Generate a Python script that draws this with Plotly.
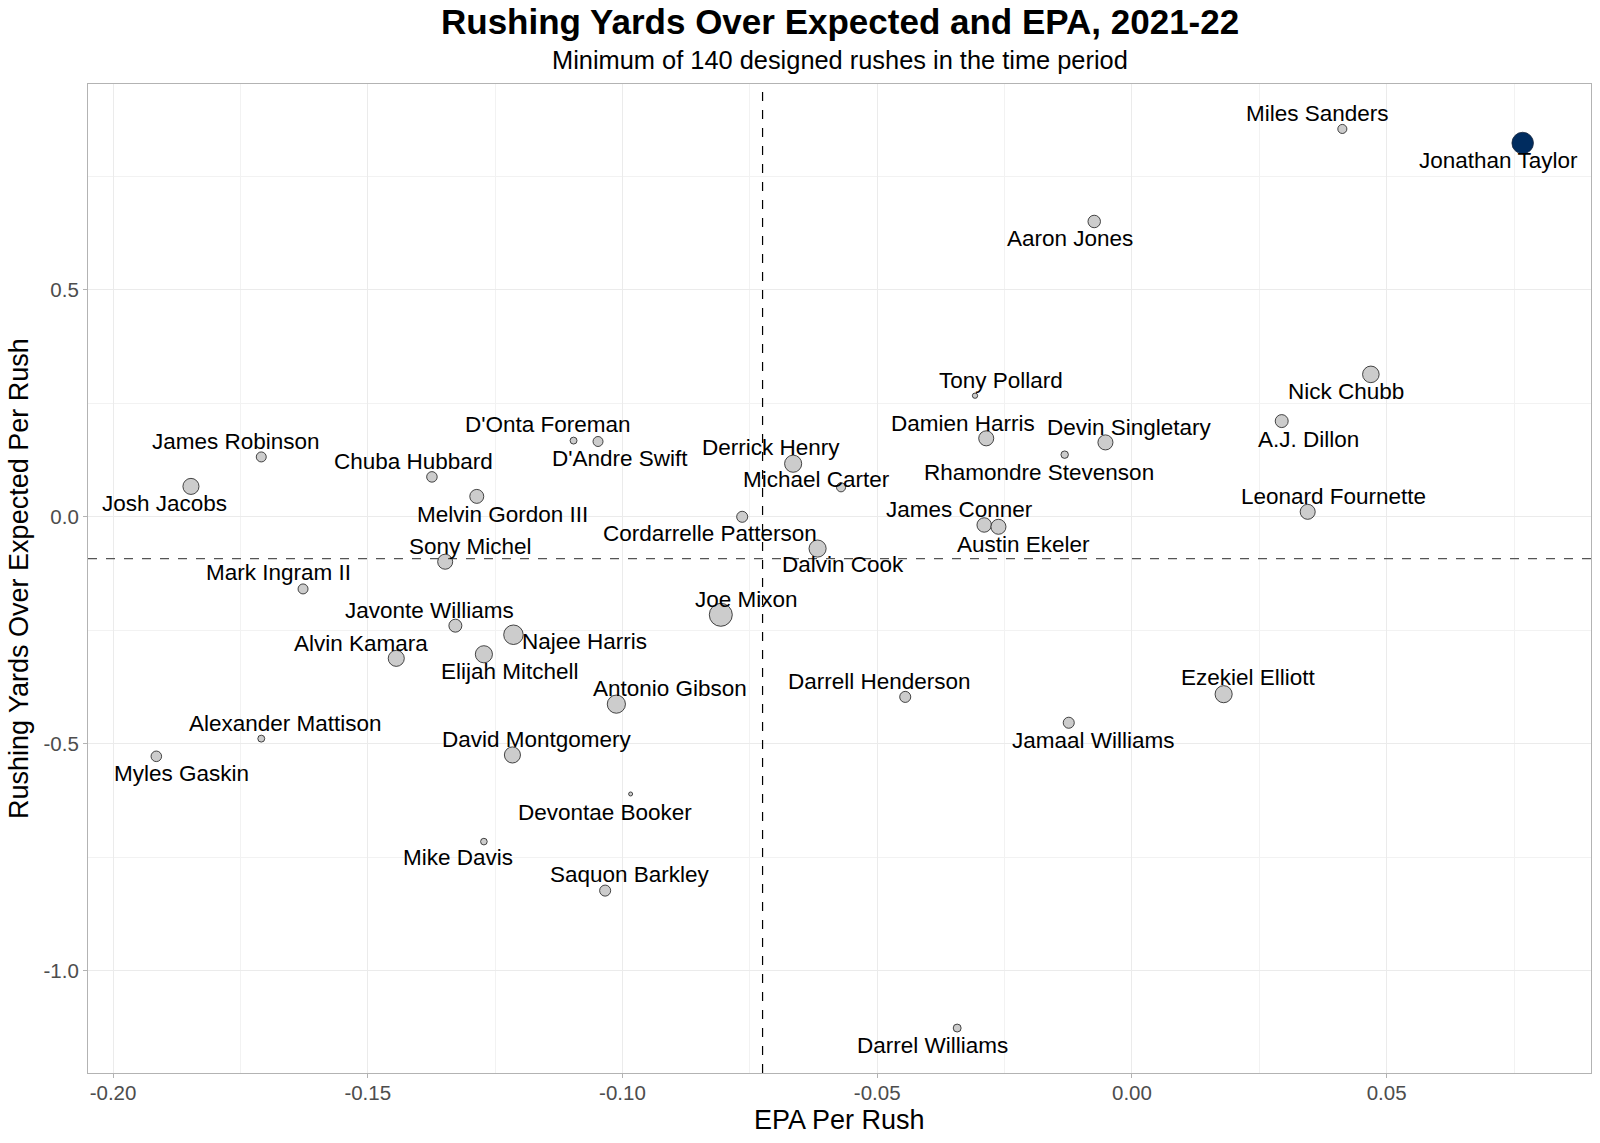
import numpy as np
import plotly.graph_objects as go

# ---------------- data ----------------
players = [
    "Jonathan Taylor", "Miles Sanders", "Aaron Jones", "Nick Chubb", "A.J. Dillon",
    "Tony Pollard", "Damien Harris", "Devin Singletary", "Rhamondre Stevenson",
    "Leonard Fournette", "James Conner", "Austin Ekeler", "Derrick Henry",
    "Michael Carter", "Cordarrelle Patterson", "Dalvin Cook", "Joe Mixon",
    "D'Onta Foreman", "D'Andre Swift", "Chuba Hubbard", "Melvin Gordon III",
    "Sony Michel", "James Robinson", "Josh Jacobs", "Mark Ingram II",
    "Javonte Williams", "Najee Harris", "Alvin Kamara", "Elijah Mitchell",
    "Antonio Gibson", "Darrell Henderson", "Ezekiel Elliott", "Jamaal Williams",
    "Alexander Mattison", "Myles Gaskin", "David Montgomery", "Devontae Booker",
    "Mike Davis", "Saquon Barkley", "Darrel Williams",
]
epa_per_rush = [
    0.0767, 0.0413, -0.0074, 0.0469, 0.0294,
    -0.0308, -0.0286, -0.0052, -0.0132,
    0.0345, -0.0290, -0.0262, -0.0665,
    -0.0571, -0.0765, -0.0617, -0.0807,
    -0.1096, -0.1048, -0.1374, -0.1286,
    -0.1348, -0.1709, -0.1847, -0.1627,
    -0.1328, -0.1214, -0.1444, -0.1272,
    -0.1012, -0.0445, 0.0180, -0.0124,
    -0.1709, -0.1915, -0.1216, -0.0984,
    -0.1272, -0.1034, -0.0343,
]
ryoe_per_rush = [
    0.824, 0.855, 0.651, 0.314, 0.211,
    0.267, 0.173, 0.164, 0.137,
    0.011, -0.018, -0.022, 0.117,
    0.065, 0.000, -0.070, -0.216,
    0.168, 0.166, 0.088, 0.045,
    -0.099, 0.132, 0.067, -0.159,
    -0.240, -0.260, -0.312, -0.303,
    -0.413, -0.397, -0.391, -0.454,
    -0.489, -0.528, -0.525, -0.611,
    -0.716, -0.824, -1.127,
]
designed_rushes = [
    318, 155, 182, 232, 187,
    141, 211, 211, 147,
    211, 204, 211, 240,
    155, 169, 240, 350,
    145, 161, 165, 198,
    211, 161, 225, 161,
    187, 280, 225, 240,
    257, 169, 240, 169,
    145, 165, 225, 140,
    144, 169, 149,
]
highlight_player = "Jonathan Taylor"
mean_epa = -0.0725
mean_ryoe = -0.092

x_ticks = [-0.20, -0.15, -0.10, -0.05, 0.00, 0.05]
x_tick_labels = ["-0.20", "-0.15", "-0.10", "-0.05", "0.00", "0.05"]
y_ticks = [-1.0, -0.5, 0.0, 0.5]
y_tick_labels = ["-1.0", "-0.5", "0.0", "0.5"]

# ---------------- layout / style ----------------
W, H = 1600, 1143
S = 1600 / 1568
ML, MR, MT, MB = 88, 9, 84, 70
FONT = "Liberation Sans, Arial, Helvetica, sans-serif"

# label offsets (px, dx right, dy down) as placed by the repel layout
label_offsets = {
    "Miles Sanders": (-24, -15), "Jonathan Taylor": (-24, 17), "Aaron Jones": (-24, 17),
    "Nick Chubb": (-24, 17), "A.J. Dillon": (26, 18), "Tony Pollard": (25, -15),
    "Damien Harris": (-23, -15), "Devin Singletary": (24, -15),
    "Rhamondre Stevenson": (-25, 17), "Leonard Fournette": (25, -15),
    "James Conner": (-24, -15), "Austin Ekeler": (25, 17), "Derrick Henry": (-22, -16),
    "Michael Carter": (-24, -8), "Cordarrelle Patterson": (-32, 16),
    "Dalvin Cook": (25, 16), "Joe Mixon": (25, -15), "D'Onta Foreman": (-25, -16),
    "D'Andre Swift": (22, 17), "Chuba Hubbard": (-18, -15),
    "Melvin Gordon III": (25, 18), "Sony Michel": (25, -15),
    "James Robinson": (-25, -15), "Josh Jacobs": (-26, 17),
    "Mark Ingram II": (-24, -16), "Javonte Williams": (-25, -15),
    "Najee Harris": (70, 7), "Alvin Kamara": (-35, -15), "Elijah Mitchell": (26, 17),
    "Antonio Gibson": (53, -15), "Darrell Henderson": (-25, -15),
    "Ezekiel Elliott": (24, -16), "Jamaal Williams": (24, 17),
    "Alexander Mattison": (24, -15), "Myles Gaskin": (25, 17),
    "David Montgomery": (24, -15), "Devontae Booker": (-25, 18),
    "Mike Davis": (-25, 16), "Saquon Barkley": (24, -16), "Darrel Williams": (-24, 17),
}

x = np.array(epa_per_rush)
y = np.array(ryoe_per_rush)
r = np.array(designed_rushes, dtype=float)

# area scale for point size (like ggplot scale_size)
dmin, dmax = 4.0, 23.0
sizes = dmin + (dmax - dmin) * np.sqrt((r - r.min()) / (r.max() - r.min()))

# 5% expansion of data range
def expand(v, f=0.05):
    lo, hi = float(np.min(v)), float(np.max(v))
    d = (hi - lo) * f
    return [lo - d, hi + d]

xr = expand(x)
yr = expand(y)

is_hl = np.array([p == highlight_player for p in players])

fig = go.Figure()
fig.add_trace(go.Scatter(
    x=x[~is_hl], y=y[~is_hl], mode="markers",
    text=[p for p, h in zip(players, is_hl) if not h],
    marker=dict(size=sizes[~is_hl], color="#CCCCCC", opacity=1,
                line=dict(color="#1A1A1A", width=0.8)),
    hovertemplate="%{text}<br>EPA: %{x:.3f}<br>RYOE: %{y:.3f}<extra></extra>",
    showlegend=False,
))
fig.add_trace(go.Scatter(
    x=x[is_hl], y=y[is_hl], mode="markers",
    text=[p for p, h in zip(players, is_hl) if h],
    marker=dict(size=sizes[is_hl], color="#002C5F", opacity=1,
                line=dict(color="#1A2A40", width=0.8)),
    hovertemplate="%{text}<br>EPA: %{x:.3f}<br>RYOE: %{y:.3f}<extra></extra>",
    showlegend=False,
))

annotations = []
for p, xi, yi in zip(players, x, y):
    dx, dy = label_offsets.get(p, (0, -15))
    annotations.append(dict(
        x=xi, y=yi, xref="x", yref="y", text=p, showarrow=False,
        xshift=dx * S, yshift=-dy * S, xanchor="center", yanchor="middle",
        font=dict(family=FONT, size=22.5, color="#000000"),
    ))

annotations += [
    dict(text="<b>Rushing Yards Over Expected and EPA, 2021-22</b>", x=0.5, y=1,
         xref="paper", yref="paper", xanchor="center", yanchor="middle",
         yshift=62.5, showarrow=False, font=dict(family=FONT, size=35, color="#000")),
    dict(text="Minimum of 140 designed rushes in the time period", x=0.5, y=1,
         xref="paper", yref="paper", xanchor="center", yanchor="middle",
         yshift=24.5, showarrow=False, font=dict(family=FONT, size=25.4, color="#000")),
    dict(text="EPA Per Rush", x=0.5, y=0, xref="paper", yref="paper",
         xanchor="center", yanchor="middle", yshift=-46.5, showarrow=False,
         font=dict(family=FONT, size=27, color="#000")),
    dict(text="Rushing Yards Over Expected Per Rush", x=0, y=0.5, xref="paper",
         yref="paper", xanchor="center", yanchor="middle", xshift=-69.5,
         textangle=-90, showarrow=False, font=dict(family=FONT, size=27, color="#000")),
]

shapes = [
    dict(type="line", xref="x", yref="paper", x0=mean_epa, x1=mean_epa, y0=0, y1=1,
         line=dict(color="#000000", width=1.2, dash="dash")),
    dict(type="line", xref="paper", yref="y", x0=0, x1=1, y0=mean_ryoe, y1=mean_ryoe,
         line=dict(color="#555555", width=1.2, dash="dash")),
]

axis_common = dict(
    showgrid=True, gridcolor="#EBEBEB", gridwidth=1.1,
    zeroline=False, showline=True, linecolor="#B3B3B3", linewidth=1.2, mirror=True,
    ticks="outside", ticklen=4, tickcolor="#B3B3B3", tickwidth=1.1,
    tickfont=dict(family=FONT, size=20.5, color="#4D4D4D"),
    minor=dict(showgrid=True, gridcolor="#F2F2F2", gridwidth=0.6, ticks=""),
)

fig.update_layout(
    width=W, height=H,
    margin=dict(l=ML, r=MR, t=MT, b=MB, pad=0),
    paper_bgcolor="#FFFFFF", plot_bgcolor="#FFFFFF",
    xaxis=dict(range=xr, tickvals=x_ticks, ticktext=x_tick_labels,
               minor_tickvals=[-0.175, -0.125, -0.075, -0.025, 0.025, 0.075],
               ticklabelstandoff=-3, **axis_common),
    yaxis=dict(range=yr, tickvals=y_ticks, ticktext=y_tick_labels,
               minor_tickvals=[-0.75, -0.25, 0.25, 0.75], **axis_common),
    annotations=annotations, shapes=shapes,
    font=dict(family=FONT),
)

fig.write_html(
    "out.html",
    config={"displayModeBar": False},
    post_script="document.body.style.margin='0';document.body.style.padding='0';",
)
